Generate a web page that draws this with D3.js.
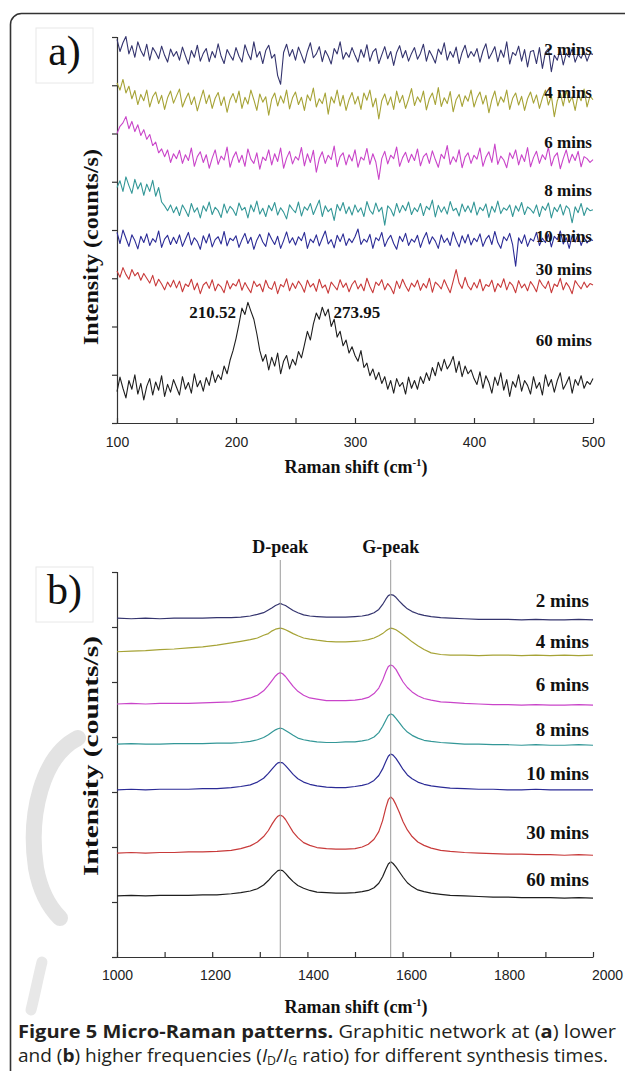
<!DOCTYPE html>
<html>
<head>
<meta charset="utf-8">
<script src="https://cdn.jsdelivr.net/npm/d3@7"></script>
<style>
  body { margin: 0; background: #fff; }
</style>
</head>
<body>
<div id="chart"></div>
<script>
// ---- data ----
const timeLabels = ["2 mins", "4 mins", "6 mins", "8 mins", "10 mins", "30 mins", "60 mins"];
const seriesColors = ["#34346e", "#a6a336", "#c944c9", "#339797", "#2b2b96", "#c83a3a", "#1e1e1e"];

// low frequency panel, Raman shift sampled every 2.5 cm-1
const shiftLow = [
  100,102.5,105,107.5,110,112.5,115,117.5,120,122.5,125,127.5,130,132.5,135,137.5,140,142.5,145,147.5,
  150,152.5,155,157.5,160,162.5,165,167.5,170,172.5,175,177.5,180,182.5,185,187.5,190,192.5,195,197.5,
  200,202.5,205,207.5,210,212.5,215,217.5,220,222.5,225,227.5,230,232.5,235,237.5,240,242.5,245,247.5,
  250,252.5,255,257.5,260,262.5,265,267.5,270,272.5,275,277.5,280,282.5,285,287.5,290,292.5,295,297.5,
  300,302.5,305,307.5,310,312.5,315,317.5,320,322.5,325,327.5,330,332.5,335,337.5,340,342.5,345,347.5,
  350,352.5,355,357.5,360,362.5,365,367.5,370,372.5,375,377.5,380,382.5,385,387.5,390,392.5,395,397.5,
  400,402.5,405,407.5,410,412.5,415,417.5,420,422.5,425,427.5,430,432.5,435,437.5,440,442.5,445,447.5,
  450,452.5,455,457.5,460,462.5,465,467.5,470,472.5,475,477.5,480,482.5,485,487.5,490,492.5,495,497.5,
  500
];
const low2 = [
  795,770,788,801,765,782,758,790,772,760,785,752,778,768,755,781,762,748,775,760,
  770,752,779,761,744,772,758,783,750,766,776,749,770,757,786,760,745,774,762,752,
  778,760,748,784,766,753,790,758,770,745,772,783,756,764,720,702,768,785,760,774,
  752,779,763,746,770,788,757,765,780,749,772,760,744,776,765,790,754,768,758,778,
  762,748,774,758,784,750,769,776,745,763,780,755,770,741,768,782,757,772,750,766,
  778,754,766,785,750,772,760,746,775,764,788,752,770,758,779,745,768,783,757,770,
  760,776,748,771,786,755,767,780,749,773,758,790,744,768,762,781,750,774,738,770,
  772,745,778,735,768,776,728,762,752,774,742,766,758,776,748,764,756,770,750,766,
  764
];
const low4 = [
  705,690,712,684,698,672,689,660,681,668,690,655,676,686,662,679,650,674,688,663,
  678,692,655,671,684,660,676,647,669,690,662,680,652,673,685,658,676,644,670,683,
  664,688,652,675,661,690,670,648,682,665,676,638,671,684,657,678,663,690,651,674,
  686,660,675,648,680,668,694,655,672,662,684,640,676,663,690,657,679,648,670,685,
  661,677,650,684,669,690,655,673,630,668,682,659,676,650,688,664,679,652,671,693,
  658,676,665,688,649,672,684,660,695,656,674,662,687,645,670,681,656,678,667,690,
  655,674,686,661,679,643,670,688,657,676,665,690,650,673,684,659,677,648,672,686,
  663,680,652,674,690,659,678,635,668,684,657,689,664,676,648,681,668,692,655,678,
  670
];
const low6 = [
  600,615,622,635,610,625,604,618,596,608,588,598,575,582,560,568,552,566,540,558,
  548,565,538,556,544,570,532,552,562,540,556,528,549,566,536,553,545,572,530,550,
  562,540,555,532,568,547,538,560,526,551,544,566,535,558,542,570,528,549,563,537,
  552,545,571,533,558,540,565,520,548,562,538,555,546,574,531,552,560,535,556,543,
  566,530,551,545,569,536,558,541,505,548,563,537,555,548,572,532,550,561,540,557,
  544,568,533,552,559,538,564,546,530,557,548,575,536,552,541,566,529,551,560,538,
  555,547,570,532,551,562,540,578,536,553,545,529,560,548,566,535,556,542,571,531,
  550,563,538,556,546,572,533,552,560,527,548,566,539,557,544,563,531,552,548,540,
  546
];
const low8 = [
  488,502,480,510,492,476,505,485,498,472,495,480,503,470,488,458,450,440,452,436,
  448,430,452,441,428,455,437,446,425,450,439,458,432,447,440,426,454,435,449,442,
  430,456,441,447,425,452,438,460,433,445,428,451,440,457,431,446,437,423,452,443,
  436,458,429,448,441,455,432,447,462,428,450,438,445,420,453,440,457,434,448,431,
  452,437,446,428,459,441,433,456,438,447,410,450,443,429,455,436,451,440,458,432,
  446,438,455,430,449,442,462,427,451,437,448,433,459,440,445,429,454,438,450,436,
  458,431,447,440,454,426,449,437,460,434,446,441,452,428,450,439,457,432,448,443,
  435,452,428,449,441,456,425,447,438,453,431,450,444,415,448,436,455,430,446,440,
  442
];
const low10 = [
  395,372,400,383,366,390,378,361,387,374,392,368,382,375,398,364,381,389,370,385,
  372,390,366,381,395,369,384,376,360,388,373,392,365,380,386,371,397,367,383,378,
  388,364,380,393,372,385,360,379,391,375,366,394,381,370,387,362,378,396,373,384,
  369,386,378,395,362,381,374,390,367,383,398,371,380,363,389,376,392,368,382,374,
  386,402,370,381,375,391,362,384,378,395,366,380,389,372,360,387,376,393,368,381,
  375,389,364,382,395,371,386,377,362,390,374,383,368,396,379,365,388,373,391,369,
  383,376,392,366,381,389,370,397,374,362,386,378,393,369,325,384,372,390,366,382,
  377,395,368,383,374,391,365,387,380,398,371,384,362,389,375,392,368,385,373,381,
  378
];
const low30 = [
  315,302,322,308,298,318,305,312,296,310,300,290,306,284,298,288,276,292,282,296,
  280,294,272,288,283,298,276,290,268,286,292,279,297,274,288,282,270,295,278,289,
  284,298,275,291,280,270,294,283,288,272,296,281,277,293,268,287,282,299,274,290,
  279,294,285,271,296,282,289,273,298,280,286,269,292,284,276,297,281,290,272,287,
  295,278,288,274,300,283,270,292,285,297,276,289,281,268,294,279,298,284,273,290,
  282,296,275,289,280,300,271,292,286,278,297,283,270,294,318,290,279,302,284,276,
  291,280,298,274,287,283,296,272,289,281,299,276,292,285,270,295,280,288,274,293,
  284,272,297,286,279,294,270,288,283,300,276,291,282,268,295,286,278,292,281,289,
  286
];
const low60 = [
  65,95,72,52,88,70,100,60,82,48,76,92,58,85,68,98,55,80,64,90,
  74,58,96,70,84,62,102,75,88,66,94,78,108,84,100,90,118,102,130,150,
  175,205,238,225,250,232,215,185,150,128,142,110,136,118,145,102,128,140,112,132,
  120,148,135,162,190,172,205,228,215,240,222,236,200,215,178,190,160,172,145,158,
  140,128,150,115,124,98,112,90,105,82,96,70,88,62,92,76,84,60,95,72,
  88,70,96,82,104,88,115,98,126,108,132,112,122,138,105,128,96,118,102,110,
  92,80,106,72,98,84,62,95,78,104,68,90,55,86,74,100,66,88,78,60,
  96,72,84,58,100,76,90,64,88,104,70,82,96,62,90,78,98,72,86,80,
  92
];
const lowPeakLabels = ["210.52", "273.95"];

// high frequency panel
const shiftHigh = [
  1000,1030,1060,1090,1120,1150,1180,1210,1240,1260,1280,1295,1308,1318,1326,1333,1338,1343,1348,1354,
  1361,1370,1380,1392,1405,1420,1440,1460,1480,1500,1515,1528,1540,1550,1558,1565,1570,1575,1580,1586,
  1593,1601,1610,1620,1632,1645,1660,1680,1700,1730,1760,1790,1820,1850,1880,1910,1940,1970,2000
];
const high2 = [
  616,615,616,615,616,616,616,617,617,618, 620,623,626,631,635,639,641,643,641,639,
  635,630,626,622,620,619,618,618,618,619, 620,622,626,632,641,651,657,659,658,654,
  647,640,633,628,624,621,619,617,616,615, 614,614,614,613,614,613,613,614,613
];
const high4 = [
  555,556,557,559,560,562,564,567,571,574, 577,580,585,588,593,596,597,598,597,595,
  592,588,584,580,578,576,574,573,573,574, 575,577,580,584,588,593,596,598,597,595,
  591,586,580,573,566,559,553,550,549,549, 548,549,549,548,549,548,549,548,549
];
const high6 = [
  460,461,460,461,461,461,462,463,464,467, 471,476,484,494,503,511,515,517,515,510,
  502,492,483,476,471,469,466,466,466,467, 469,472,479,489,503,519,528,531,529,523,
  512,500,490,482,475,470,467,464,463,461, 460,459,459,458,459,458,458,459,458
];
const high8 = [
  387,388,387,387,388,388,388,389,389,390, 392,395,399,404,409,413,415,416,415,412,
  408,403,398,395,393,391,390,390,391,391, 393,395,400,408,419,431,439,442,440,434,
  426,417,409,403,398,394,392,390,389,387, 387,386,386,385,386,385,385,386,385
];
const high10 = [
  304,305,304,305,305,305,306,306,308,310, 313,318,325,334,342,349,353,354,353,348,
  341,332,324,318,314,311,309,308,308,310, 312,315,321,330,342,356,365,369,367,361,
  352,341,331,324,318,314,311,309,307,306, 305,305,304,304,305,304,304,304,304
];
const high30 = [
  189,190,189,190,190,191,191,192,194,197, 202,209,219,230,242,251,256,258,256,250,
  240,227,217,208,203,199,197,196,196,197, 200,205,214,228,248,272,286,291,287,277,
  263,246,231,219,209,203,198,194,192,190, 189,188,187,187,186,186,185,186,185
];
const high60 = [
  111,112,111,112,112,112,113,113,115,117, 120,124,131,139,147,153,157,158,157,152,
  145,137,130,125,121,118,117,116,116,117, 119,121,126,134,146,160,169,173,170,164,
  155,145,135,128,122,119,116,114,112,111, 110,109,109,108,108,108,107,108,107
];
const peakNames = ["D-peak", "G-peak"];
const peakShifts = [1343, 1575];

const lowSeries = [low2, low4, low6, low8, low10, low30, low60];
const highSeries = [high2, high4, high6, high8, high10, high30, high60];

// ---- layout ----
const width = 625, height = 1071;
const serif = "'Liberation Serif', 'Times New Roman', serif";
const sans = "'Liberation Sans', Arial, sans-serif";
// label anchors, in each panel's y units
const lowLabelAt = [763, 674, 570, 470, 375, 306, 160];
const highLabelAt = [636, 562, 483, 402, 322, 214, 130];

const svg = d3.select("#chart").append("svg")
    .attr("width", width)
    .attr("height", height)
    .attr("xmlns", "http://www.w3.org/2000/svg");

// outer frame (rounded, runs off the right and bottom)
svg.append("rect")
    .attr("x", 10.5).attr("y", 13.5)
    .attr("width", 700).attr("height", 1100)
    .attr("rx", 11)
    .attr("fill", "none")
    .attr("stroke", "#333")
    .attr("stroke-width", 1.6);

// faint watermark on the left of panel b
svg.append("path")
    .attr("d", "M78,738 C42,756 28,815 36,868 C40,890 48,906 60,918")
    .attr("fill", "none")
    .attr("stroke", "#e3e3e3")
    .attr("stroke-width", 16)
    .attr("stroke-linecap", "round");
svg.append("path")
    .attr("d", "M42,962 C38,978 35,994 31,1010")
    .attr("fill", "none")
    .attr("stroke", "#e8e8e8")
    .attr("stroke-width", 11)
    .attr("stroke-linecap", "round");

function panelTag(x, y, label) {
    svg.append("rect")
        .attr("x", x).attr("y", y)
        .attr("width", 57).attr("height", 55)
        .attr("fill", "#fff")
        .attr("stroke", "#e8e8e8");
    svg.append("text")
        .attr("x", x + 28.5).attr("y", y + 37)
        .attr("text-anchor", "middle")
        .style("font-family", serif)
        .style("font-size", "42px")
        .style("fill", "#111")
        .text(label);
}

function drawPanel(opt) {
    const g = svg.append("g");
    const x = d3.scaleLinear().domain(opt.xDomain).range([117, 593]);
    const y = d3.scaleLinear().domain(opt.yDomain).range([opt.bottom, opt.top]);

    // x axis, ticks pointing up
    const xAxis = g.append("g")
        .attr("transform", `translate(0,${opt.bottom})`)
        .call(d3.axisBottom(x)
            .tickValues(opt.xTicks)
            .tickFormat(d => (d % opt.labelEvery === 0 ? d : ""))
            .tickSizeInner(-5)
            .tickSizeOuter(0)
            .tickPadding(opt.tickPad));
    xAxis.selectAll("text")
        .attr("dx", d => opt.labelDrift * (d - opt.xDomain[0]) / (opt.xDomain[1] - opt.xDomain[0]))
        .style("font-family", sans)
        .style("font-size", "14px")
        .style("fill", "#222");

    // y axis, no labels
    g.append("g")
        .attr("transform", "translate(117,0)")
        .call(d3.axisLeft(y)
            .tickValues(opt.yTicks)
            .tickFormat("")
            .tickSize(5)
            .tickSizeOuter(5));

    g.selectAll(".domain, .tick line")
        .attr("stroke", "#333")
        .attr("stroke-width", 1.2);

    // spectra
    const line = d3.line()
        .x((d, i) => x(opt.shifts[i]))
        .y(d => y(d));
    opt.series.forEach((vals, i) => {
        g.append("path")
            .datum(vals)
            .attr("fill", "none")
            .attr("stroke", seriesColors[i])
            .attr("stroke-width", opt.lineWidth)
            .attr("stroke-linejoin", "round")
            .attr("d", line);
    });

    // series labels
    timeLabels.forEach((t, i) => {
        g.append("text")
            .attr("x", opt.labelX)
            .attr("y", y(opt.labelAt[i]))
            .attr("text-anchor", "end")
            .style("font-family", serif)
            .style("font-weight", "bold")
            .style("font-size", opt.labelSize)
            .style("fill", "#111")
            .text(t);
    });

    // axis titles
    const xt = g.append("text")
        .attr("x", 356)
        .attr("y", opt.bottom + opt.titleGap)
        .attr("text-anchor", "middle")
        .style("font-family", serif)
        .style("font-weight", "bold")
        .style("font-size", "18px")
        .style("fill", "#111");
    xt.append("tspan").text("Raman shift (cm");
    xt.append("tspan").attr("dy", -7).style("font-size", "11px").text("-1");
    xt.append("tspan").attr("dy", 7).text(")");

    g.append("text")
        .attr("transform", `translate(98,${opt.yTitleMid}) rotate(-90)`)
        .attr("text-anchor", "middle")
        .attr("textLength", opt.yTitleLen)
        .attr("lengthAdjust", "spacingAndGlyphs")
        .style("font-family", serif)
        .style("font-weight", "bold")
        .style("font-size", "21px")
        .style("fill", "#111")
        .text("Intensity (counts/s)");

    return { g, x, y };
}

// ---- panel a ----
const pa = drawPanel({
    xDomain: [100, 500], yDomain: [0, 800],
    top: 37, bottom: 423,
    xTicks: d3.range(100, 501, 50), labelEvery: 100, labelDrift: 0,
    yTicks: d3.range(0, 801, 100),
    tickPad: 14, titleGap: 50,
    yTitleMid: 247, yTitleLen: 196,
    shifts: shiftLow, series: lowSeries,
    lineWidth: 1.1, labelAt: lowLabelAt, labelX: 592, labelSize: "17px"
});
pa.g.append("text")
    .attr("x", pa.x(200)).attr("y", pa.y(218))
    .attr("text-anchor", "end")
    .style("font-family", serif).style("font-weight", "bold")
    .style("font-size", "17px").style("fill", "#111")
    .text(lowPeakLabels[0]);
pa.g.append("text")
    .attr("x", pa.x(282)).attr("y", pa.y(218))
    .attr("text-anchor", "start")
    .style("font-family", serif).style("font-weight", "bold")
    .style("font-size", "17px").style("fill", "#111")
    .text(lowPeakLabels[1]);

// ---- panel b ----
const pb = drawPanel({
    xDomain: [1000, 2000], yDomain: [0, 700],
    top: 572, bottom: 957,
    xTicks: d3.range(1000, 2001, 100), labelEvery: 200, labelDrift: 14,
    yTicks: d3.range(0, 701, 100),
    tickPad: 13, titleGap: 56,
    yTitleMid: 756, yTitleLen: 240,
    shifts: shiftHigh, series: highSeries,
    lineWidth: 1.2, labelAt: highLabelAt, labelX: 589, labelSize: "19px"
});
peakShifts.forEach((s, i) => {
    pb.g.append("line")
        .attr("x1", pb.x(s)).attr("x2", pb.x(s))
        .attr("y1", 560).attr("y2", pb.y(0))
        .attr("stroke", "#9a9a9a")
        .attr("stroke-width", 1);
    pb.g.append("text")
        .attr("x", pb.x(s)).attr("y", 553)
        .attr("text-anchor", "middle")
        .style("font-family", serif).style("font-weight", "bold")
        .style("font-size", "18px").style("fill", "#111")
        .text(peakNames[i]);
});

panelTag(36, 28, "a)");
panelTag(36, 567, "b)");

// ---- caption ----
const cap = svg.append("g")
    .style("font-family", "'Open Sans', sans-serif")
    .style("font-size", "18.5px")
    .style("fill", "#231f20");
const c1 = cap.append("text").attr("x", 18).attr("y", 1038)
    .attr("textLength", 598).attr("lengthAdjust", "spacingAndGlyphs");
c1.append("tspan").style("font-weight", "bold").text("Figure 5 Micro-Raman patterns.");
c1.append("tspan").text(" Graphitic network at (");
c1.append("tspan").style("font-weight", "bold").text("a");
c1.append("tspan").text(") lower");
const c2 = cap.append("text").attr("x", 18).attr("y", 1062)
    .attr("textLength", 590).attr("lengthAdjust", "spacingAndGlyphs");
c2.append("tspan").text("and (");
c2.append("tspan").style("font-weight", "bold").text("b");
c2.append("tspan").text(") higher frequencies (");
c2.append("tspan").style("font-style", "italic").text("I");
c2.append("tspan").attr("dy", 3).style("font-size", "12px").text("D");
c2.append("tspan").attr("dy", -3).text("/");
c2.append("tspan").style("font-style", "italic").text("I");
c2.append("tspan").attr("dy", 3).style("font-size", "12px").text("G");
c2.append("tspan").attr("dy", -3).text(" ratio) for different synthesis times.");
</script>
</body>
</html>
